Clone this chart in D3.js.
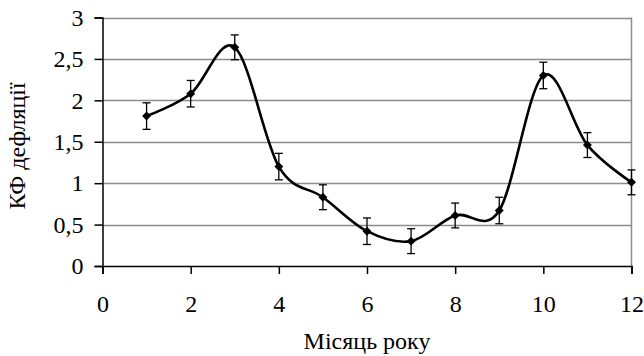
<!DOCTYPE html>
<html>
<head>
<meta charset="utf-8">
<script src="https://cdn.jsdelivr.net/npm/d3@7"></script>
<style>
  html, body { margin: 0; padding: 0; background: #fff; }
  svg { display: block; }
</style>
</head>
<body>
<svg id="chart" width="644" height="356"></svg>
<script>
// Monthly deflation coefficient with error margins
const months = [1, 2, 3, 4, 5, 6, 7, 8, 9, 10, 11, 12];
const kfValues = [1.81, 2.08, 2.64, 1.20, 0.83, 0.42, 0.30, 0.61, 0.67, 2.30, 1.46, 1.01];
const kfErrors = [0.16, 0.16, 0.15, 0.16, 0.15, 0.16, 0.15, 0.15, 0.16, 0.16, 0.15, 0.15];
const xTicks = [0, 2, 4, 6, 8, 10, 12];
const yTicks = [0, 0.5, 1, 1.5, 2, 2.5, 3];
const xTitle = "Місяць року";
const yTitle = "КФ дефляції";

const FONT = "'Liberation Serif'";
const FONT_SIZE = "24px";

const svg = d3.select("#chart");
const margin = { left: 102.5, right: 12.5, top: 17.5, bottom: 90 };
const W = 644, H = 356;

const x = d3.scaleLinear().domain([0, 12]).range([margin.left, W - margin.right]);
const y = d3.scaleLinear().domain([0, 3]).range([H - margin.bottom, margin.top]);

const fmt = d => String(d).replace(".", ",");
const serif = sel => sel.style("font-family", FONT).style("font-size", FONT_SIZE).attr("fill", "#000");

// horizontal gridlines
svg.append("g")
  .selectAll("line")
  .data(yTicks.filter(d => d > 0))
  .join("line")
  .attr("x1", x(0)).attr("x2", x(12))
  .attr("y1", d => Math.round(y(d)) + 0.5).attr("y2", d => Math.round(y(d)) + 0.5)
  .attr("stroke", "#8c8c8c").attr("stroke-width", 1.5);

// right border of plot area
svg.append("line")
  .attr("x1", x(12)).attr("x2", x(12))
  .attr("y1", y(3)).attr("y2", y(0))
  .attr("stroke", "#8c8c8c").attr("stroke-width", 1.5);

// y axis
const yAxis = svg.append("g")
  .attr("transform", `translate(${x(0)},0)`)
  .call(d3.axisLeft(y).tickValues(yTicks).tickFormat(fmt).tickSize(8).tickPadding(11));
yAxis.select(".domain").attr("stroke", "#000").attr("stroke-width", 1.5);
yAxis.selectAll(".tick line").attr("stroke", "#000").attr("stroke-width", 1.5);
yAxis.selectAll("text").call(serif);

// x axis
const xAxis = svg.append("g")
  .attr("transform", `translate(0,${y(0)})`)
  .call(d3.axisBottom(x).tickValues(xTicks).tickFormat(fmt).tickSize(8).tickPadding(21));
xAxis.select(".domain").attr("stroke", "#000").attr("stroke-width", 1.5);
xAxis.selectAll(".tick line").attr("stroke", "#000").attr("stroke-width", 1.5);
xAxis.selectAll("text").call(serif);

// axis titles
svg.append("text")
  .attr("x", (x(0) + x(12)) / 2).attr("y", 349)
  .attr("text-anchor", "middle")
  .call(serif)
  .text(xTitle);

svg.append("text")
  .attr("transform", `translate(25,146) rotate(-90)`)
  .attr("text-anchor", "middle")
  .call(serif)
  .text(yTitle);

const data = months.map((m, i) => ({ m, v: kfValues[i], e: kfErrors[i] }));

// error bars
const eb = svg.append("g").attr("stroke", "#000").attr("stroke-width", 1.3);
data.forEach(d => {
  const cx = x(d.m);
  eb.append("line").attr("x1", cx).attr("x2", cx).attr("y1", y(d.v + d.e)).attr("y2", y(d.v - d.e));
  eb.append("line").attr("x1", cx - 4).attr("x2", cx + 4).attr("y1", y(d.v + d.e)).attr("y2", y(d.v + d.e));
  eb.append("line").attr("x1", cx - 4).attr("x2", cx + 4).attr("y1", y(d.v - d.e)).attr("y2", y(d.v - d.e));
});

// smoothed line
const line = d3.line()
  .x(d => x(d.m)).y(d => y(d.v))
  .curve(d3.curveCardinal.tension(0));
svg.append("path")
  .datum(data)
  .attr("d", line)
  .attr("fill", "none")
  .attr("stroke", "#000")
  .attr("stroke-width", 2.6)
  .attr("stroke-linejoin", "round");

// diamond markers (square rotated by 45 degrees)
svg.append("g")
  .selectAll("path")
  .data(data)
  .join("path")
  .attr("transform", d => `translate(${x(d.m)},${y(d.v)}) rotate(45)`)
  .attr("d", d3.symbol().type(d3.symbolSquare).size(40))
  .attr("fill", "#000");
</script>
</body>
</html>
